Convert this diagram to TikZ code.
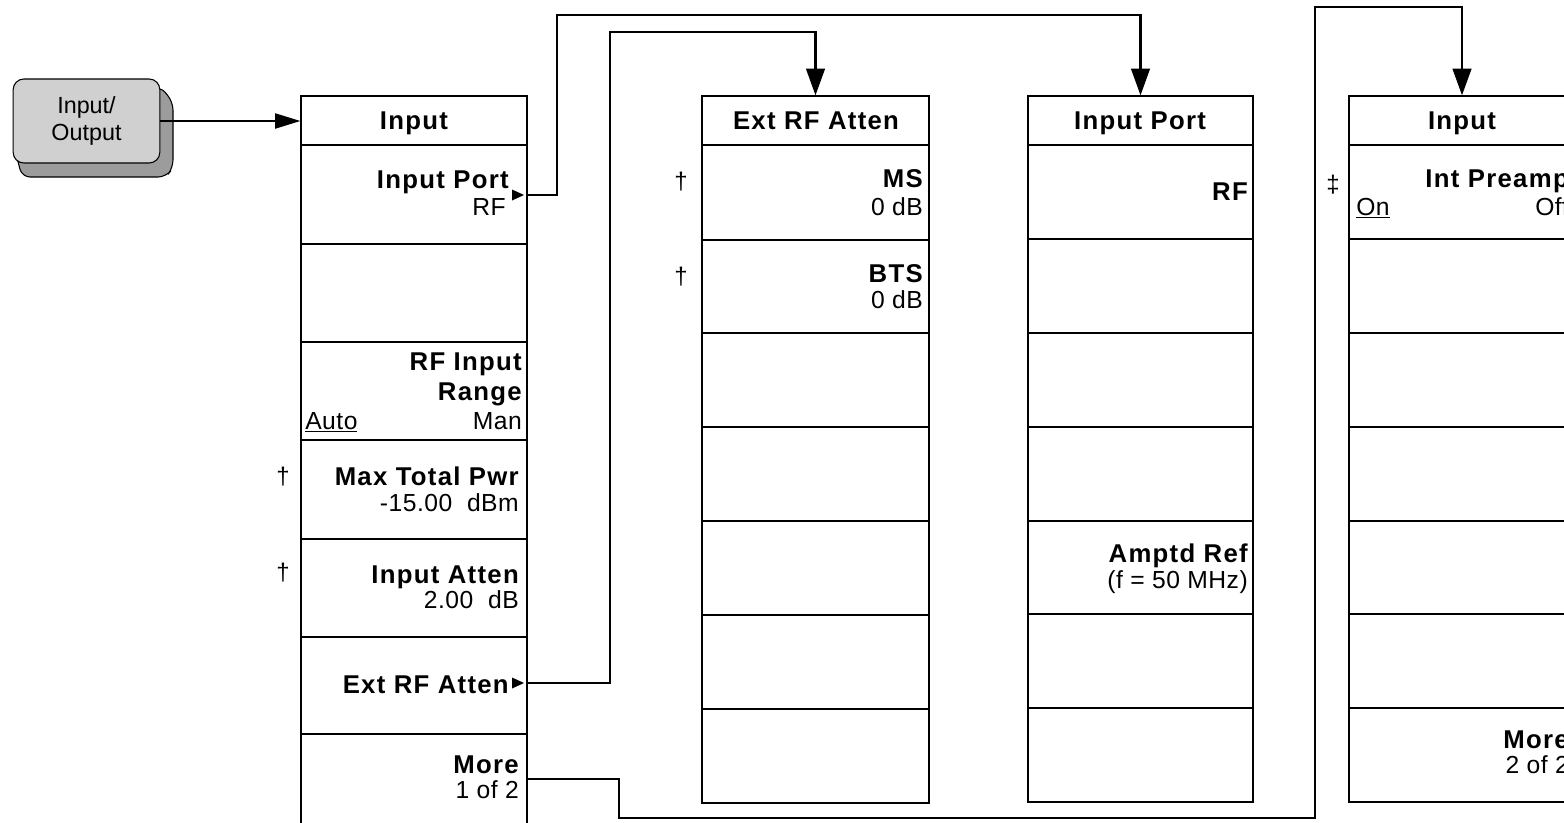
\documentclass[tikz,border=0pt]{standalone}
\usepackage{fontspec}
\setmainfont{Liberation Sans}
\newfontfamily\kbf[LetterSpace=5]{Liberation Sans}
\newfontfamily\krg[LetterSpace=2]{Liberation Sans}
\usetikzlibrary{arrows.meta,fit}
\definecolor{btnfill}{HTML}{D0D0D0}
\definecolor{btnshadow}{HTML}{9C9C9C}
\tikzset{
  box/.style={draw, line width=1pt, inner sep=0pt, fill=white},
  bl/.style={font=\kbf\bfseries\fontsize{19.3}{22}\selectfont, inner sep=0pt},
  rl/.style={font=\krg\fontsize{18.5}{22}\selectfont, inner sep=0pt},
  mk/.style={font=\fontsize{18}{21}\selectfont, inner sep=0pt},
  conn/.style={line width=1.7pt, -{Triangle[length=20pt,width=14pt]}},
  ioconn/.style={line width=0.8pt, -{Triangle[length=19pt,width=11.5pt]}},
  tri/.style={fill=black},
}
\begin{document}
\begin{tikzpicture}[x=0.75pt,y=-0.75pt]
\useasboundingbox (0,0) rectangle (1564,822);
\clip (0,0) rectangle (1564,822);
\fill[white] (0,0) rectangle (1564,822);

% Input/Output hard key
\draw[fill=btnshadow, line width=0.8pt, rounded corners=6pt]
  (15,150) -- (22,177) -- (166,177) -- (173,168) -- (173,102) -- (160,86) -- cycle;
\node[draw, line width=0.8pt, fill=btnfill, rounded corners=8pt, minimum width=110pt,
  minimum height=63pt, inner sep=0pt, align=center,
  font=\fontsize{17.5}{20.5}\selectfont] (io) at (86.5,121) {Input/\\Output};

% Column 1
\node[box, fit={(301,96)(527,145)}] (c1h) {};
\foreach \i/\a/\b in {1/145/244,2/244/342,3/342/440,4/440/539,5/539/637,6/637/734,7/734/840}
  \node[box, fit={(301,\a)(527,\b)}] (c1r\i) {};
% Column 2
\node[box, fit={(702,96)(929,145)}] (c2h) {};
\foreach \i/\a/\b in {1/145/240,2/240/333,3/333/427,4/427/521,5/521/615,6/615/709,7/709/803}
  \node[box, fit={(702,\a)(929,\b)}] (c2r\i) {};
% Column 3
\node[box, fit={(1028,96)(1253,145)}] (c3h) {};
\foreach \i/\a/\b in {1/145/239,2/239/333,3/333/427,4/427/521,5/521/614,6/614/708,7/708/802}
  \node[box, fit={(1028,\a)(1253,\b)}] (c3r\i) {};
% Column 4
\node[box, fit={(1349,96)(1575,145)}] (c4h) {};
\foreach \i/\a/\b in {1/145/239,2/239/333,3/333/427,4/427/521,5/521/614,6/614/708,7/708/802}
  \node[box, fit={(1349,\a)(1575,\b)}] (c4r\i) {};

% Column 1 texts
\node[bl, anchor=base] (c1t) at (414,129) {Input};
\node[bl, anchor=base east] (c1a) at (509,188) {Input Port};
\node[rl, anchor=base east] (c1b) at (506,215) {RF};
\fill[tri] (512,189.5) -- (524,195) -- (512,200.5) -- cycle;
\node[bl, anchor=base east] (c1c) at (522,370) {RF Input};
\node[bl, anchor=base east] (c1d) at (522,400) {Range};
\node[rl, anchor=base west] (c1e) at (305,429) {\underline{Auto}};
\node[rl, anchor=base east] (c1f) at (522,429) {Man};
\node[mk, anchor=base] (d1) at (283,484) {†};
\node[bl, anchor=base east] (c1g) at (519,485) {Max Total Pwr};
\node[rl, anchor=base east] (c1h2) at (519,511) {-15.00~~dBm};
\node[mk, anchor=base] (d2) at (283,580) {†};
\node[bl, anchor=base east] (c1i) at (519,583) {Input Atten};
\node[rl, anchor=base east] (c1j) at (519,608) {2.00~~dB};
\node[bl, anchor=base east] (c1k) at (509,693) {Ext RF Atten};
\fill[tri] (512,677.5) -- (524,683) -- (512,688.5) -- cycle;
\node[bl, anchor=base east] (c1l) at (519,773) {More};
\node[rl, anchor=base east] (c1m) at (519,798) {1 of 2};

% Column 2 texts
\node[bl, anchor=base] (c2t) at (816,129) {Ext RF Atten};
\node[mk, anchor=base] (d3) at (681,189) {†};
\node[bl, anchor=base east] (c2a) at (923,187) {MS};
\node[rl, anchor=base east] (c2b) at (923,215) {0 dB};
\node[mk, anchor=base] (d4) at (681,284) {†};
\node[bl, anchor=base east] (c2c) at (923,282) {BTS};
\node[rl, anchor=base east] (c2d) at (923,308) {0 dB};

% Column 3 texts
\node[bl, anchor=base] (c3t) at (1140,129) {Input Port};
\node[bl, anchor=base east] (c3a) at (1248,200) {RF};
\node[bl, anchor=base east] (c3b) at (1248,562) {Amptd Ref};
\node[rl, anchor=base east] (c3c) at (1248,588) {(f = 50 MHz)};

% Column 4 texts
\node[bl, anchor=base] (c4t) at (1462,129) {Input};
\node[mk, anchor=base] (d5) at (1333,192) {‡};
\node[bl, anchor=base east] (c4a) at (1569,187) {Int Preamp};
\node[rl, anchor=base west] (c4b) at (1356,215) {\underline{On}};
\node[rl, anchor=base east] (c4c) at (1569,215) {Off};
\node[bl, anchor=base east] (c4d) at (1569,748) {More};
\node[rl, anchor=base east] (c4e) at (1569,773) {2 of 2};

% Connectors
\coordinate (s1) at (527,195);
\coordinate (s2) at (527,683);
\coordinate (s3) at (527,779);
\draw[ioconn] (io.east) -- (io.east -| c1h.west);
\draw[conn] (s1) -- ++(30,0) -- ++(0,-180) -| (c3h.north);
\draw[conn] (s2) -- ++(83,0) -- ++(0,-651) -| (c2h.north);
\draw[conn] (s3) -- ++(92,0) -- ++(0,39) -- ++(696,0) -- ++(0,-811) -| (c4h.north);
\end{tikzpicture}
\end{document}
